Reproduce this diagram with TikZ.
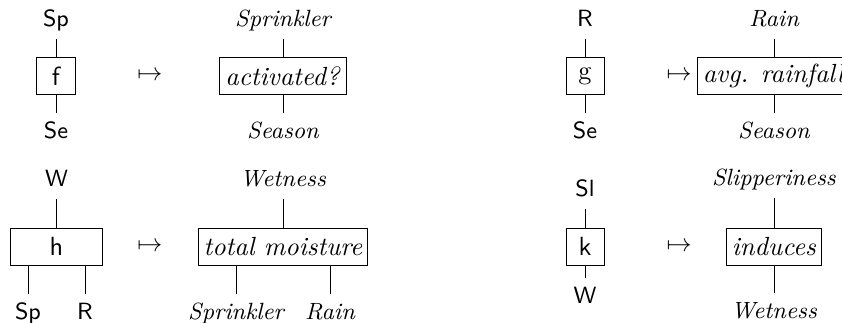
\documentclass[tikz,border=0pt]{standalone}
\usepackage{amsmath,amssymb}
\usepackage{tikz}
\usetikzlibrary{positioning}
\tikzstyle{box} = [draw, minimum height=14.8pt, inner xsep=2.2pt, inner ysep=0pt, font=\fontsize{10.5pt}{12pt}\selectfont]
\tikzstyle{plabel} = [font=\fontsize{9.4pt}{11pt}\sffamily, text height=1.5ex, text depth=.25ex, inner sep=3.8pt]
\tikzstyle{tlabel} = [font=\fontsize{9.4pt}{11pt}\itshape, text height=1.5ex, text depth=.25ex, inner sep=3.8pt]

\begin{document}
\begin{tikzpicture}[x=0.4pt, y=-0.4pt,
    sbox/.style={box, minimum width=15.2pt, font=\fontsize{10.5pt}{12pt}\sffamily}]
    \useasboundingbox (0,0) rectangle (842,322);

    % f : Se -> Sp
    \node[sbox] (f) at (56,76) {f};
    \node[plabel] (fSp) at (56,20) {Sp};
    \node[plabel] (fSe) at (56,132) {Se};
    \node (fmap) at (150,76) {$\mapsto$};
    \node[box] (activ) at (283,76) {\textit{activated?}};
    \node[tlabel] (activSp) at (283,20) {Sprinkler};
    \node[tlabel] (activSe) at (283,132) {Season};

    % g : Se -> R
    \node[sbox, font=\fontsize{10.5pt}{12pt}\rmfamily] (g) at (585,76) {g};
    \node[plabel] (gR) at (585,20) {R};
    \node[plabel] (gSe) at (585,132) {Se};
    \node (gmap) at (679,76) {$\mapsto$};
    \node[box] (rainf) at (774,76) {\textit{avg. rainfall}};
    \node[tlabel] (rainfR) at (774,20) {Rain};
    \node[tlabel] (rainfSe) at (774,132) {Season};

    % h : Sp, R -> W
    \node[sbox, minimum width=36.4pt] (h) at (56.5,246.5) {h};
    \node[plabel] (hW) at (56.5,180) {W};
    \node[plabel] (hSp) at (28,313) {Sp};
    \node[plabel] (hR) at (85,313) {R};
    \node (hmap) at (150,246.5) {$\mapsto$};
    \node[box] (moist) at (283,246.5) {\textit{total moisture}};
    \node[tlabel] (moistW) at (283,180) {Wetness};
    \node[tlabel] (moistSp) at (236,313) {Sprinkler};
    \node[tlabel] (moistR) at (330,313) {Rain};

    % k : W -> Sl
    \node[sbox] (k) at (585,246.5) {k};
    \node[plabel] (kSl) at (585,190) {Sl};
    \node[plabel] (kW) at (585,297) {W};
    \node (kmap) at (679,246.5) {$\mapsto$};
    \node[box] (induce) at (774,246.5) {\textit{induces}};
    \node[tlabel] (induceSl) at (774,179) {Slipperiness};
    \node[tlabel] (induceW) at (774,312) {Wetness};

    % Wires
    \draw (fSp) -- (f);
    \draw (f) -- (fSe);
    \draw (activSp) -- (activ);
    \draw (activ) -- (activSe);
    \draw (gR) -- (g);
    \draw (g) -- (gSe);
    \draw (rainfR) -- (rainf);
    \draw (rainf) -- (rainfSe);
    \draw (hW) -- (h);
    \draw (hSp) -- (hSp |- h.south);
    \draw (hR) -- (hR |- h.south);
    \draw (moistW) -- (moist);
    \draw (moistSp) -- (moistSp |- moist.south);
    \draw (moistR) -- (moistR |- moist.south);
    \draw (kSl) -- (k);
    \draw (k) -- (kW);
    \draw (induceSl) -- (induce);
    \draw (induce) -- (induceW);
\end{tikzpicture}
\end{document}
